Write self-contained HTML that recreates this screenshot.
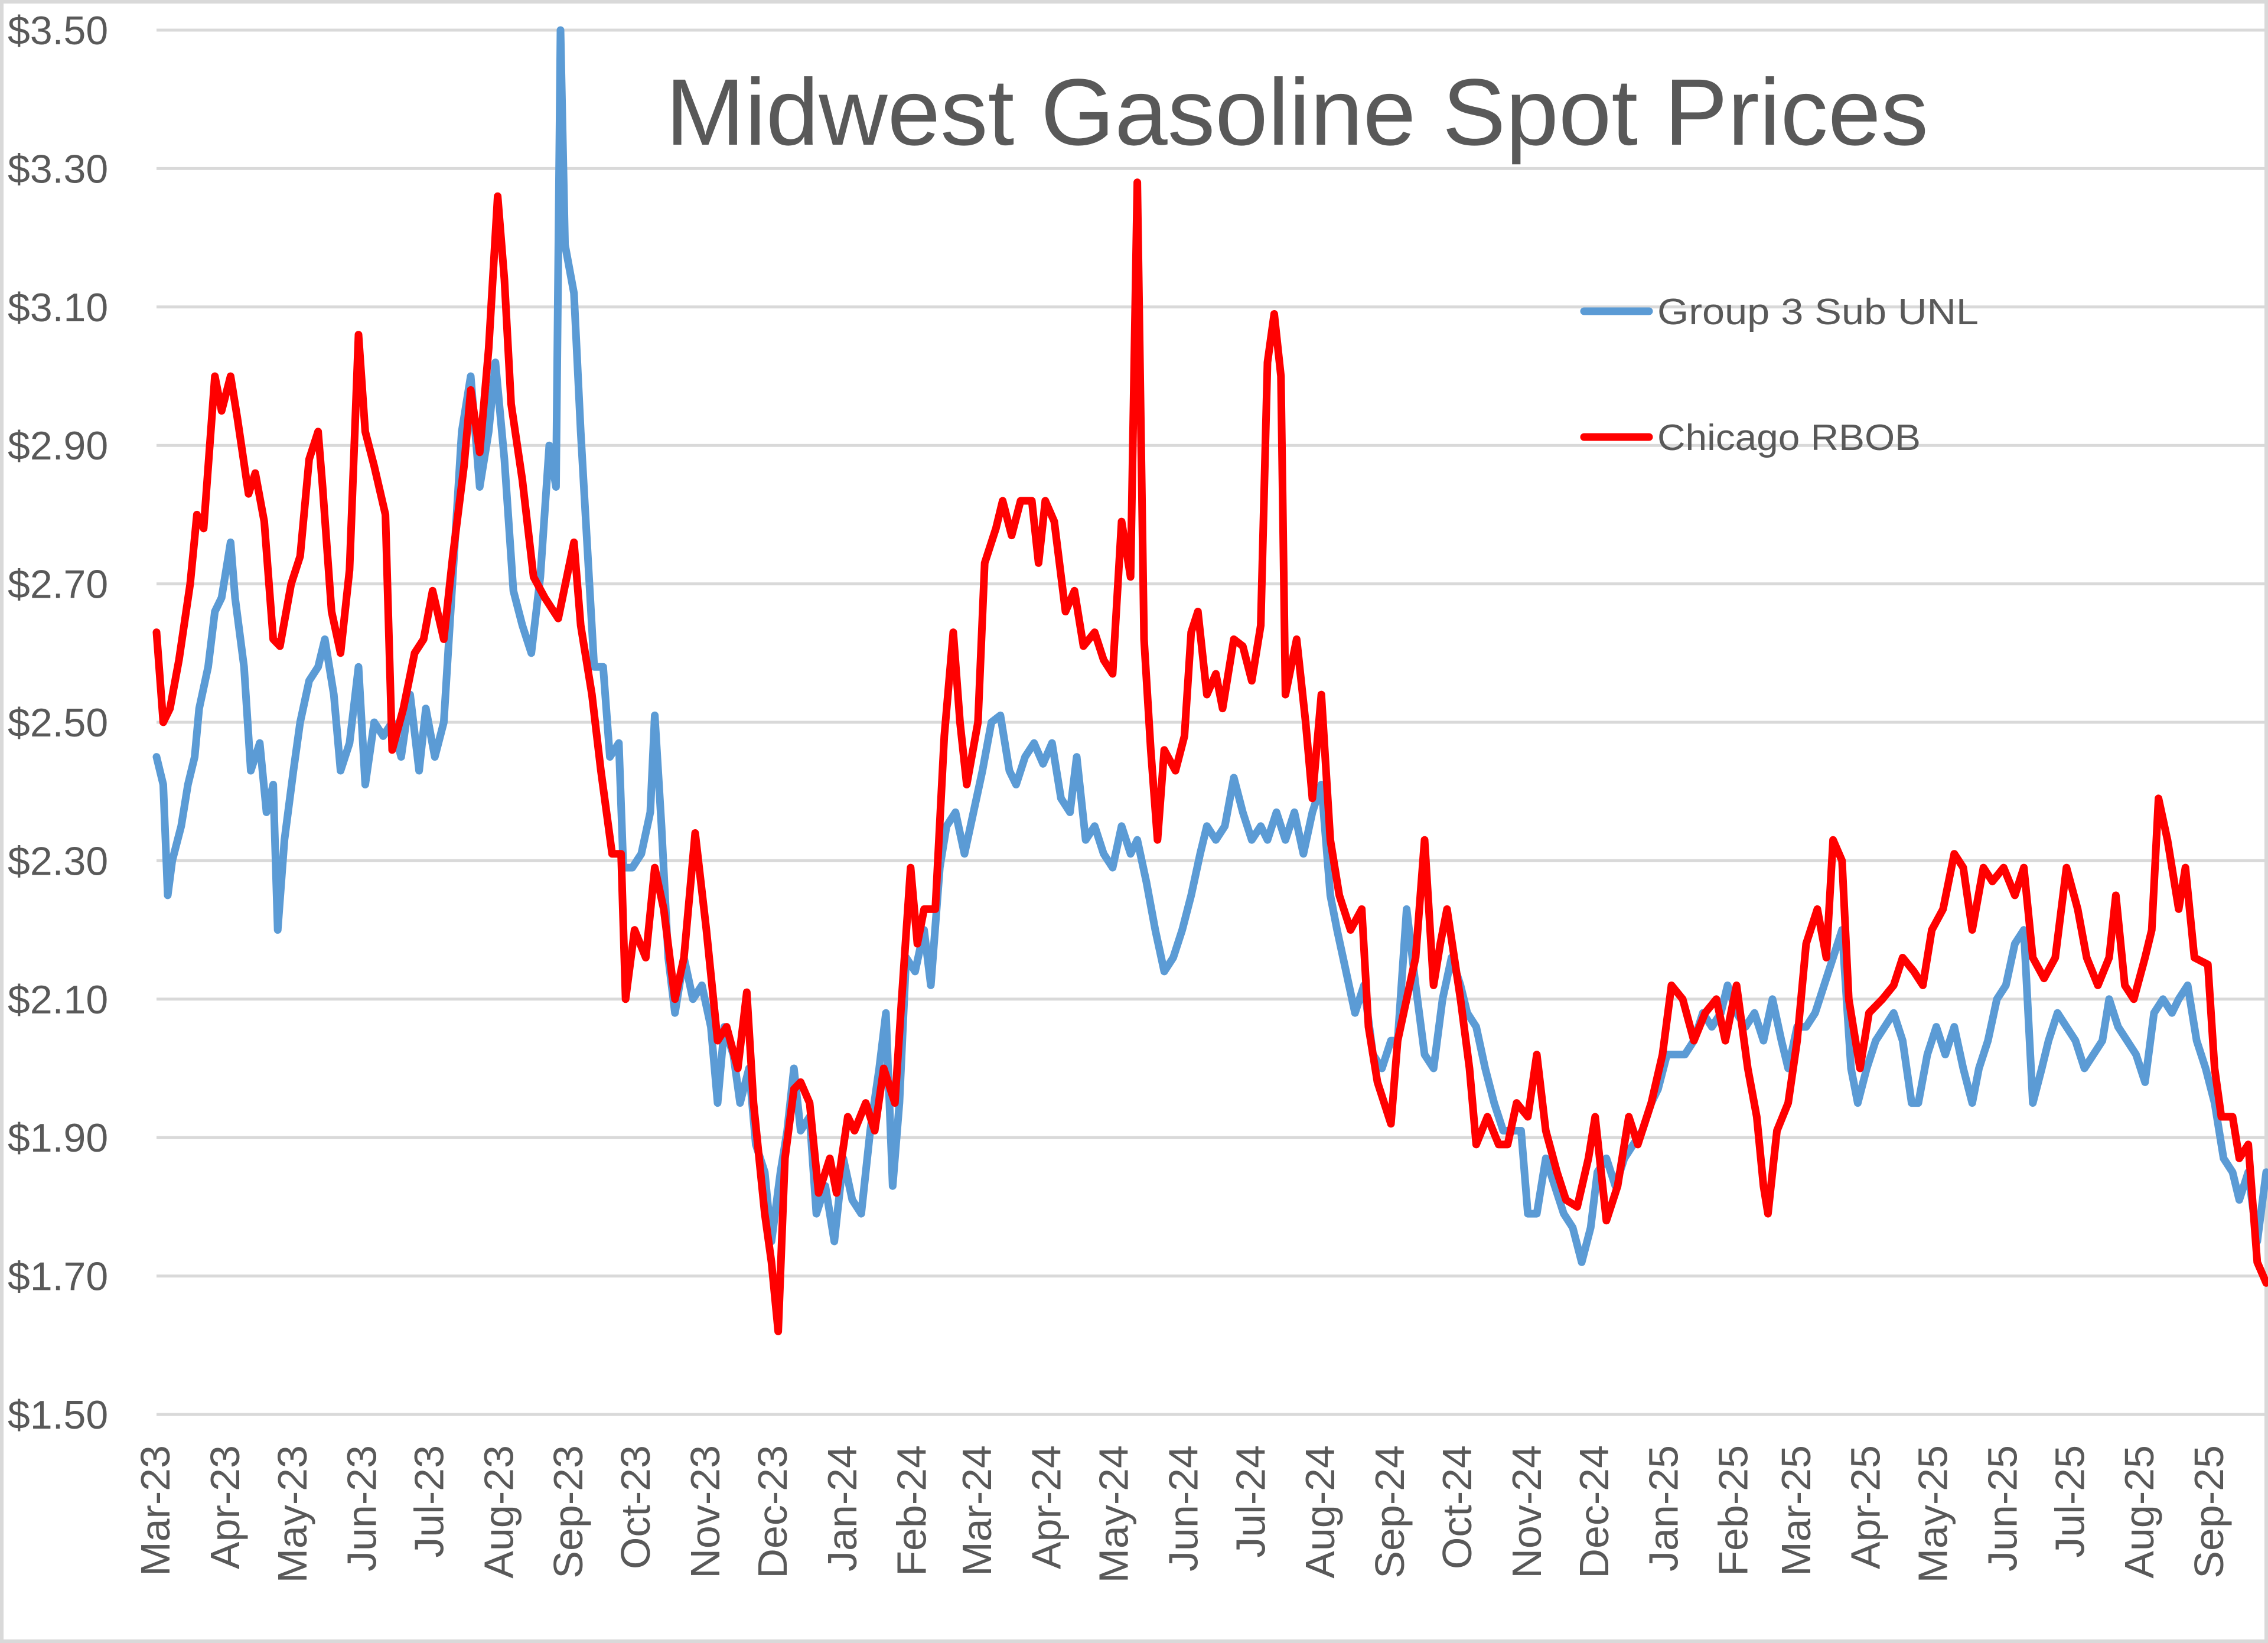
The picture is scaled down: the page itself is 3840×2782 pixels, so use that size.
<!DOCTYPE html>
<html><head><meta charset="utf-8"><style>
html,body{margin:0;padding:0;background:#fff;}
svg{display:block;font-family:"Liberation Sans",sans-serif;}
</style></head><body>
<svg id="chart" width="3840" height="2782" viewBox="0 0 3840 2782" xmlns="http://www.w3.org/2000/svg">
<rect x="3" y="3" width="3834" height="2776" fill="#fff" stroke="#d9d9d9" stroke-width="6"/>
<g id="grid"></g>
<g id="yaxis"></g>
<g id="xaxis"></g>
<g id="series"></g>
<text x="2196" y="245" font-size="160" fill="#595959" text-anchor="middle" textLength="2138" lengthAdjust="spacingAndGlyphs">Midwest Gasoline Spot Prices</text>
<g>
<line x1="2682" y1="527" x2="2792" y2="527" stroke="#5B9BD5" stroke-width="13" stroke-linecap="round"/>
<text x="2806" y="549" font-size="62" fill="#595959" textLength="544" lengthAdjust="spacingAndGlyphs">Group 3 Sub UNL</text>
<line x1="2682" y1="740" x2="2792" y2="740" stroke="#FF0000" stroke-width="13" stroke-linecap="round"/>
<text x="2806" y="762" font-size="62" fill="#595959" textLength="446" lengthAdjust="spacingAndGlyphs">Chicago RBOB</text>
</g>
</svg>
<script>
const yTicks=[1.5,1.7,1.9,2.1,2.3,2.5,2.7,2.9,3.1,3.3,3.5];
const yTickLabels=["$1.50","$1.70","$1.90","$2.10","$2.30","$2.50","$2.70","$2.90","$3.10","$3.30","$3.50"];
const monthLabels=["Mar-23","Apr-23","May-23","Jun-23","Jul-23","Aug-23","Sep-23","Oct-23","Nov-23","Dec-23","Jan-24","Feb-24","Mar-24","Apr-24","May-24","Jun-24","Jul-24","Aug-24","Sep-24","Oct-24","Nov-24","Dec-24","Jan-25","Feb-25","Mar-25","Apr-25","May-25","Jun-25","Jul-25","Aug-25","Sep-25"];
const rbobDays=[0,3,6,10,15,18,21,26,29,33,36,41,44,48,52,55,60,64,68,72,74,78,82,86,90,93,97,102,105,110,115,119,123,128,132,137,140,144,148,152,155,158,163,168,173,179,186,189,194,198,203,207,209,213,218,222,226,231,235,240,245,250,254,259,263,266,271,274,277,280,284,287,291,295,300,303,308,311,316,320,324,329,332,336,339,342,347,351,355,358,361,366,369,374,377,381,385,390,393,396,400,405,409,413,418,422,426,430,434,437,440,443,446,449,454,458,461,464,468,472,475,480,484,488,492,495,498,501,503,508,512,515,519,523,527,532,537,540,544,550,553,557,561,565,569,572,575,581,585,588,593,598,602,606,611,615,619,624,628,633,638,641,646,651,656,660,666,671,675,680,685,690,695,699,704,709,713,716,718,722,727,731,735,740,744,747,751,754,759,763,769,774,778,783,787,791,796,801,805,809,814,818,823,828,832,836,841,846,851,856,860,865,870,873,877,881,886,889,892,896,901,904,908,914,917,920,925,928,932,936,940];
const rbobValues=[2.63,2.50,2.52,2.59,2.70,2.80,2.78,3.00,2.95,3.00,2.94,2.83,2.86,2.79,2.62,2.61,2.70,2.74,2.88,2.92,2.84,2.66,2.60,2.72,3.06,2.92,2.87,2.80,2.46,2.52,2.60,2.62,2.69,2.62,2.74,2.87,2.98,2.89,3.04,3.26,3.14,2.96,2.85,2.71,2.68,2.65,2.76,2.64,2.54,2.43,2.31,2.31,2.10,2.20,2.16,2.29,2.23,2.10,2.16,2.34,2.20,2.04,2.06,2.00,2.11,1.95,1.79,1.72,1.62,1.87,1.97,1.98,1.95,1.82,1.87,1.82,1.93,1.91,1.95,1.91,2.00,1.95,2.10,2.29,2.18,2.23,2.23,2.48,2.63,2.50,2.41,2.50,2.73,2.78,2.82,2.77,2.82,2.82,2.73,2.82,2.79,2.66,2.69,2.61,2.63,2.59,2.57,2.79,2.71,3.28,2.62,2.46,2.33,2.46,2.43,2.48,2.63,2.66,2.54,2.57,2.52,2.62,2.61,2.56,2.64,3.02,3.09,3.00,2.54,2.62,2.50,2.39,2.54,2.33,2.25,2.20,2.23,2.06,1.98,1.92,2.04,2.10,2.16,2.33,2.12,2.18,2.23,2.10,2.00,1.89,1.93,1.89,1.89,1.95,1.93,2.02,1.91,1.85,1.81,1.80,1.87,1.93,1.78,1.83,1.93,1.89,1.95,2.02,2.12,2.10,2.04,2.08,2.10,2.04,2.12,2.00,1.93,1.83,1.79,1.91,1.95,2.04,2.18,2.23,2.16,2.33,2.30,2.10,2.00,2.08,2.10,2.12,2.16,2.14,2.12,2.20,2.23,2.31,2.29,2.20,2.29,2.27,2.29,2.25,2.29,2.16,2.13,2.16,2.29,2.23,2.16,2.12,2.16,2.25,2.12,2.10,2.16,2.20,2.39,2.33,2.23,2.29,2.16,2.15,2.00,1.93,1.93,1.87,1.89,1.72,1.69];
const g3Days=[0,3,5,7,11,14,17,19,23,26,29,33,35,39,42,46,49,52,54,57,61,64,68,72,75,79,82,86,90,93,97,101,105,109,113,117,120,124,128,132,136,140,144,148,151,155,159,163,167,171,175,178,180,182,186,189,192,195,199,202,206,208,212,216,220,222,225,228,231,235,239,243,247,250,253,257,260,264,267,271,274,278,281,284,287,291,294,298,302,306,310,314,318,322,325,328,331,334,338,342,345,349,352,356,360,364,368,372,376,380,383,387,391,395,399,403,407,410,414,418,422,426,430,434,437,441,445,449,453,457,461,465,468,472,476,480,484,488,492,495,499,503,507,511,515,519,523,526,530,534,538,542,546,550,553,557,561,565,569,573,577,581,584,588,592,596,600,604,608,611,615,619,623,627,631,635,639,642,646,650,654,658,662,666,669,673,677,681,685,689,693,697,700,704,708,712,716,720,724,727,731,735,739,743,747,751,755,758,762,766,770,774,778,782,785,789,793,797,801,805,809,812,816,820,824,828,832,836,840,843,847,851,855,859,863,867,870,874,878,882,886,890,894,898,901,905,909,913,917,921,925,928,932,936,940];
const g3Values=[2.45,2.41,2.25,2.30,2.35,2.41,2.45,2.52,2.58,2.66,2.68,2.76,2.68,2.58,2.43,2.47,2.37,2.41,2.20,2.33,2.43,2.50,2.56,2.58,2.62,2.54,2.43,2.47,2.58,2.41,2.50,2.48,2.50,2.45,2.54,2.43,2.52,2.45,2.50,2.71,2.92,3.00,2.84,2.92,3.02,2.88,2.69,2.64,2.60,2.71,2.90,2.84,3.50,3.19,3.12,2.92,2.75,2.58,2.58,2.45,2.47,2.29,2.29,2.31,2.37,2.51,2.35,2.16,2.08,2.16,2.10,2.12,2.06,1.95,2.06,2.02,1.95,2.00,1.89,1.85,1.75,1.85,1.91,2.00,1.91,1.93,1.79,1.83,1.75,1.87,1.81,1.79,1.91,2.00,2.08,1.83,1.95,2.16,2.14,2.20,2.12,2.29,2.35,
2.37,2.31,2.37,2.43,2.50,2.51,2.43,2.41,2.45,2.47,
2.44,2.47,2.39,2.37,2.45,2.33,2.35,2.31,2.29,2.35,
2.31,2.33,2.27,2.20,2.14,2.16,2.20,2.25,2.31,2.35,
2.33,2.35,2.42,2.37,2.33,2.35,2.33,2.37,2.33,2.37,
2.31,2.37,2.41,2.25,2.20,2.14,2.08,2.12,2.02,2.00,
2.04,2.04,2.23,2.12,2.02,2.00,2.10,2.16,2.12,2.08,
2.06,2.00,1.95,1.91,1.91,1.91,1.79,1.79,1.87,1.83,
1.79,1.77,1.72,1.77,1.85,1.87,1.83,1.87,1.89,1.91,
1.95,1.97,2.02,2.02,2.02,2.04,2.08,2.06,2.08,2.12,
2.08,2.06,2.08,2.04,2.10,2.04,2.00,2.06,2.06,2.08,
2.12,2.16,2.20,2.00,1.95,2.00,2.04,2.06,2.08,2.04,
1.95,1.95,2.02,2.06,2.02,2.06,2.00,1.95,2.00,2.04,
2.10,2.12,2.18,2.20,1.95,2.00,2.04,2.08,2.06,2.04,
2.00,2.02,2.04,2.10,2.06,2.04,2.02,1.98,2.08,2.10,
2.08,2.10,2.12,2.04,2.00,1.95,1.87,1.85,1.81,1.85,
1.75,1.85];

const NS="http://www.w3.org/2000/svg";
const X0=265,PX_PER_DAY=3.8,Y_TOP=51,PX_PER_DOLLAR=1172;
function xScale(d){return X0+d*PX_PER_DAY;}
function yScale(v){return Y_TOP+(3.5-v)*PX_PER_DOLLAR;}
const mAbbr={Jan:0,Feb:1,Mar:2,Apr:3,May:4,Jun:5,Jul:6,Aug:7,Sep:8,Oct:9,Nov:10,Dec:11};
function monthDay(lbl){const p=lbl.split('-');const t=Date.UTC(2000+ +p[1],mAbbr[p[0]],1);return (t-Date.UTC(2023,2,1))/86400000;}

const grid=document.getElementById('grid'),yax=document.getElementById('yaxis'),xax=document.getElementById('xaxis'),ser=document.getElementById('series');
yTicks.forEach((v,i)=>{
  const l=document.createElementNS(NS,'line');
  
  
  l.setAttribute('x1',X0);l.setAttribute('x2',3840);
  l.setAttribute('y1',yScale(v));l.setAttribute('y2',yScale(v));
  l.setAttribute('stroke','#d9d9d9');l.setAttribute('stroke-width','5');
  grid.appendChild(l);
  const t=document.createElementNS(NS,'text');
  
  
  t.setAttribute('x',13);t.setAttribute('y',yScale(v)+24);
  t.setAttribute('font-size','68');t.setAttribute('fill','#595959');
  t.textContent=yTickLabels[i];
  yax.appendChild(t);
});
monthLabels.forEach(m=>{
  const x=xScale(monthDay(m))+22;
  const t=document.createElementNS(NS,'text');
  
  
  t.setAttribute('transform','translate('+x+',2447) rotate(-90)');
  t.setAttribute('text-anchor','end');
  t.setAttribute('font-size','70');t.setAttribute('fill','#595959');
  t.textContent=m;
  xax.appendChild(t);
});
function drawLine(days,vals,color,name){
  const n=Math.min(days.length,vals.length);
  let d='';
  for(let i=0;i<n;i++){d+=(i?'L':'M')+xScale(days[i]).toFixed(1)+','+yScale(vals[i]).toFixed(1);}
  const p=document.createElementNS(NS,'path');
  
  
  p.setAttribute('d',d);p.setAttribute('fill','none');
  p.setAttribute('stroke',color);p.setAttribute('stroke-width','13');
  p.setAttribute('stroke-linejoin','round');p.setAttribute('stroke-linecap','round');
  ser.appendChild(p);
}
drawLine(g3Days,g3Values,'#5B9BD5','group3-sub-unl-line');
drawLine(rbobDays,rbobValues,'#FF0000','chicago-rbob-line');
</script>
</body></html>
